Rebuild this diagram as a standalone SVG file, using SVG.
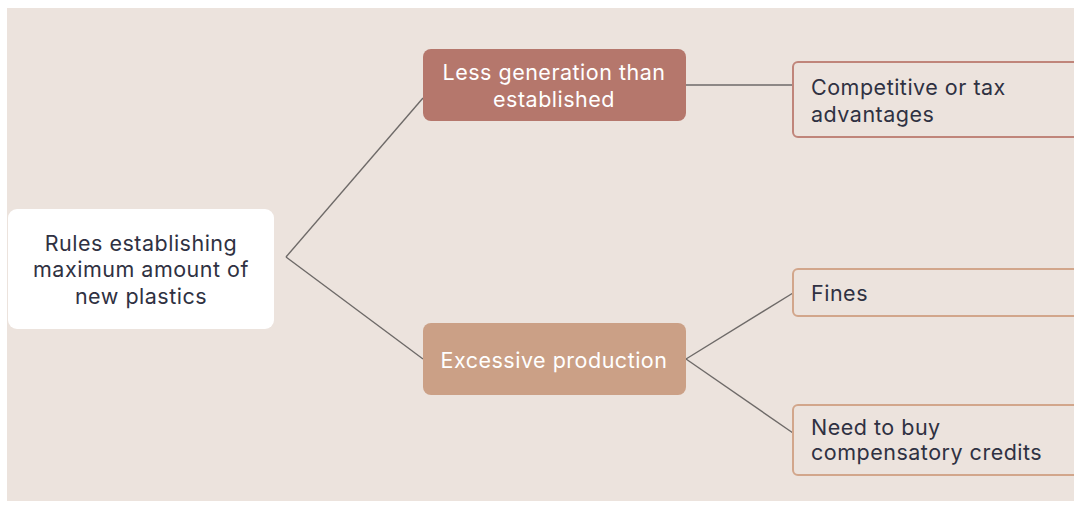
<svg xmlns="http://www.w3.org/2000/svg" width="1074" height="511" viewBox="0 0 1074 511">
  <defs>
    <style>
      .txt { font-family: Inter, "Open Sans", "Liberation Sans", sans-serif; font-size: 21.5px; letter-spacing: 0.5px; }
      .dark { fill: #2f3142; }
      .light { fill: #ffffff; }
      .wire { stroke: #6e6a68; stroke-width: 1.4; fill: none; }
      .leaf { fill: #ece3dd; stroke-width: 2; }
    </style>
  </defs>
  <rect x="0" y="0" width="1074" height="511" fill="#ffffff"/>
  <rect x="7" y="8" width="1067" height="493" fill="#ece3dd"/>

  <g id="connectors">
    <line class="wire" x1="286" y1="257" x2="423" y2="98"/>
    <line class="wire" x1="286" y1="257" x2="423" y2="359"/>
    <line class="wire" x1="686" y1="85" x2="793" y2="85"/>
    <line class="wire" x1="686" y1="359" x2="793" y2="293"/>
    <line class="wire" x1="686" y1="359" x2="793" y2="433"/>
  </g>

  <g id="root">
    <rect x="8" y="209" width="266" height="120" rx="9" fill="#ffffff"/>
    <text class="txt dark" text-anchor="middle" x="141" y="251">Rules establishing</text>
    <text class="txt dark" text-anchor="middle" x="141" y="277">maximum amount of</text>
    <text class="txt dark" text-anchor="middle" x="141" y="304">new plastics</text>
  </g>

  <g id="less-generation">
    <rect x="423" y="49" width="263" height="72" rx="8" fill="#b5776c"/>
    <text class="txt light" text-anchor="middle" x="554" y="80">Less generation than</text>
    <text class="txt light" text-anchor="middle" x="554" y="107">established</text>
  </g>

  <g id="excessive-production">
    <rect x="423" y="323" width="263" height="72" rx="8" fill="#cba086"/>
    <text class="txt light" text-anchor="middle" x="554" y="368">Excessive production</text>
  </g>

  <g id="advantages">
    <rect class="leaf" x="793" y="62" width="300" height="75" rx="5" stroke="#c0857a"/>
    <text class="txt dark" x="811" y="95">Competitive or tax</text>
    <text class="txt dark" x="811" y="122">advantages</text>
  </g>

  <g id="fines">
    <rect class="leaf" x="793" y="269" width="300" height="47" rx="5" stroke="#d2a68b"/>
    <text class="txt dark" x="811" y="301">Fines</text>
  </g>

  <g id="credits">
    <rect class="leaf" x="793" y="405" width="300" height="70" rx="5" stroke="#d2a68b"/>
    <text class="txt dark" x="811" y="435">Need to buy</text>
    <text class="txt dark" x="811" y="460">compensatory credits</text>
  </g>
</svg>
